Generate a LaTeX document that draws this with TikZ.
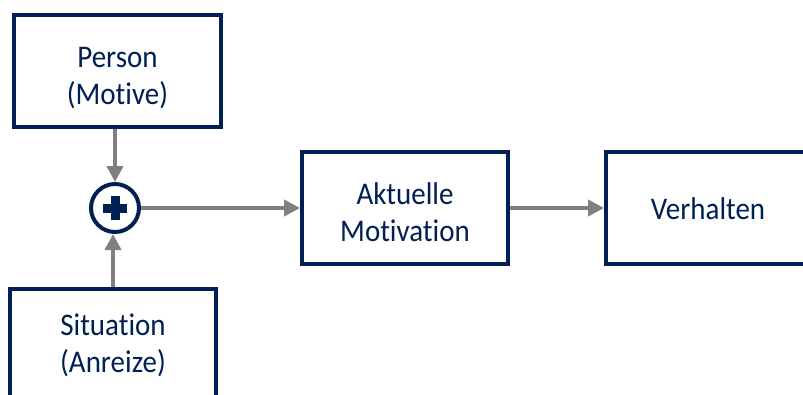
\documentclass[tikz,border=0pt]{standalone}
\usepackage{fontspec}
\setmainfont{Carlito}[Ligatures={NoCommon},FakeStretch=0.92]
\usetikzlibrary{arrows.meta,calc}
\definecolor{navy}{RGB}{0,32,84}
\definecolor{arrowgray}{RGB}{128,128,128}
\begin{document}
\begin{tikzpicture}[x=1pt,y=-1pt,
  box/.style={draw=navy,line width=4pt,fill=white,text=navy,align=center,
    minimum height=112pt,inner sep=0pt,text height=66pt,text depth=0pt,
    font=\fontsize{31.5}{37}\selectfont},
  onebox/.style={box,text height=23pt},
  conn/.style={draw=arrowgray,line width=4.3pt,
    -{Triangle[length=16pt,width=16pt]}}]
\useasboundingbox (0,0) rectangle (803,394);
\node[box,minimum width=207pt] (person) at (117.5,71) {Person\\(Motive)};
\node[box,minimum width=206pt,text height=54pt] (sit) at (113,345) {Situation\\(Anreize)};
\node[box,minimum width=206pt] (akt) at (405,208) {Aktuelle\\Motivation};
\node[onebox,minimum width=204pt] (verh) at (708,208) {Verhalten};
\node[draw=navy,line width=4pt,circle,minimum size=48pt,inner sep=0pt] (plus) at (115,208) {};
\fill[navy] ($(plus.center)+(-12,-4.5)$) rectangle ($(plus.center)+(12,4.5)$);
\fill[navy] ($(plus.center)+(-4.5,-12)$) rectangle ($(plus.center)+(4.5,12)$);
\draw[conn] (plus |- person.south) -- (plus.north);
\draw[conn] (sit.north) -- (sit.north |- plus.south);
\draw[conn] (plus.east) -- (akt.west);
\draw[conn] (akt.east) -- (verh.west);
\end{tikzpicture}
\end{document}
